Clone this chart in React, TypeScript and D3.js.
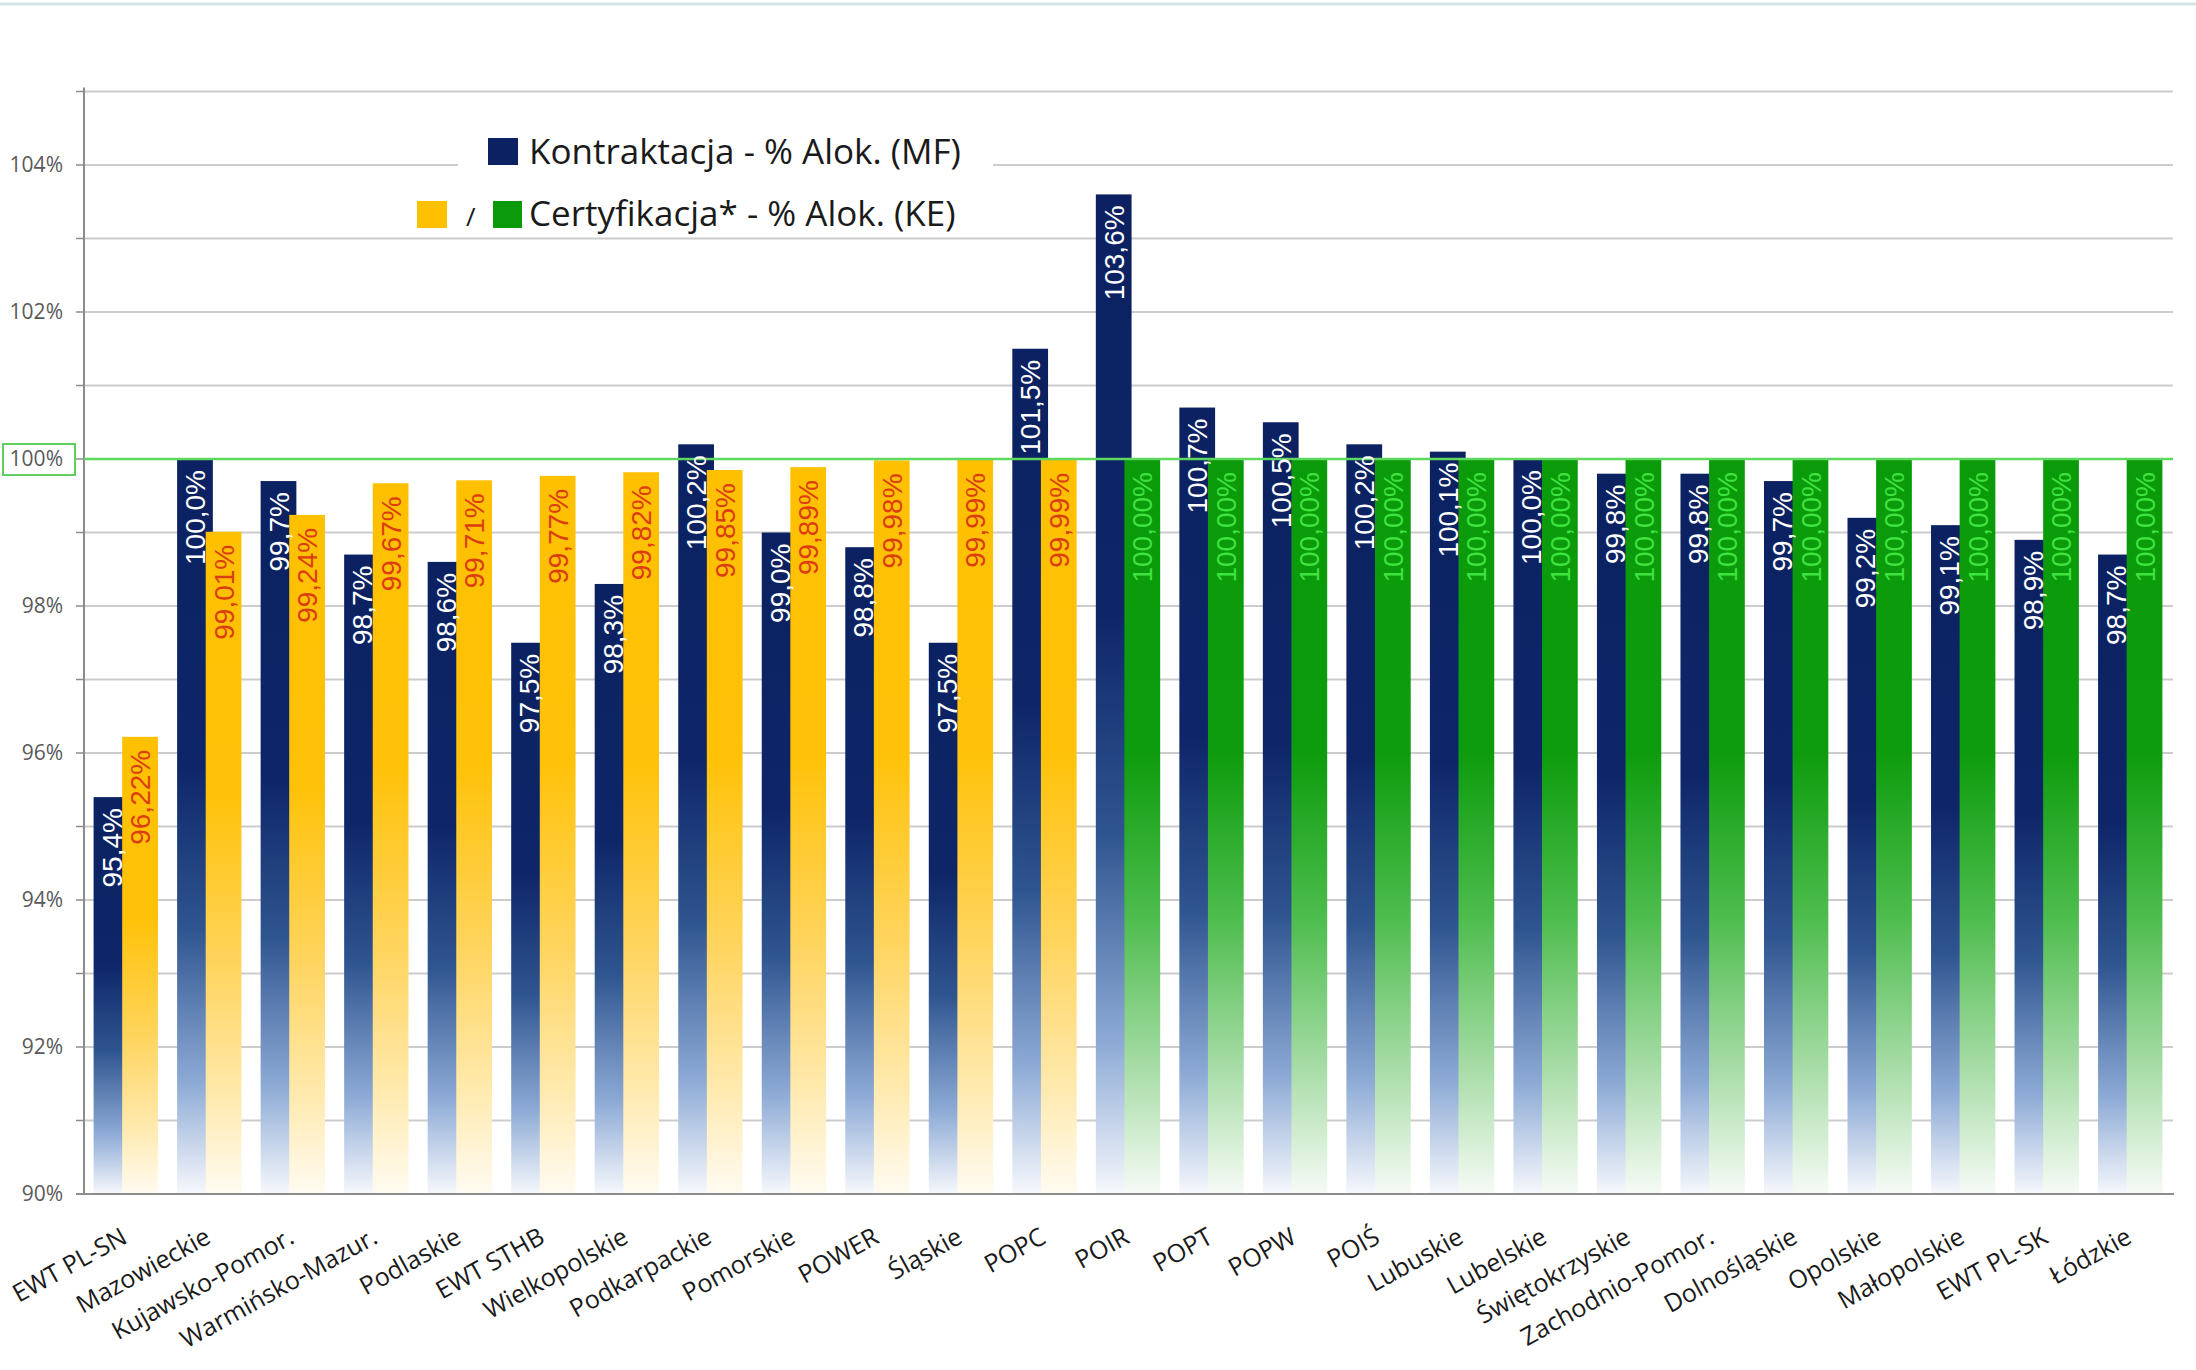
import { useEffect, useRef } from 'react';
import * as d3 from 'd3';

const categories = [
  'EWT PL-SN', 'Mazowieckie', 'Kujawsko-Pomor.', 'Warmińsko-Mazur.', 'Podlaskie',
  'EWT STHB', 'Wielkopolskie', 'Podkarpackie', 'Pomorskie', 'POWER', 'Śląskie',
  'POPC', 'POIR', 'POPT', 'POPW', 'POIŚ', 'Lubuskie', 'Lubelskie', 'Świętokrzyskie',
  'Zachodnio-Pomor.', 'Dolnośląskie', 'Opolskie', 'Małopolskie', 'EWT PL-SK', 'Łódzkie',
];

// Kontraktacja - % Alok. (MF)
const contracting = [
  95.4, 100.0, 99.7, 98.7, 98.6, 97.5, 98.3, 100.2, 99.0, 98.8, 97.5, 101.5,
  103.6, 100.7, 100.5, 100.2, 100.1, 100.0, 99.8, 99.8, 99.7, 99.2, 99.1, 98.9, 98.7,
];

// Certyfikacja* - % Alok. (KE)
const certification = [
  96.22, 99.01, 99.24, 99.67, 99.71, 99.77, 99.82, 99.85, 99.89, 99.98, 99.99, 99.99,
  100, 100, 100, 100, 100, 100, 100, 100, 100, 100, 100, 100, 100,
];

// programmes whose certification is complete (green bars)
const certComplete = [
  'POIR', 'POPT', 'POPW', 'POIŚ', 'Lubuskie', 'Lubelskie', 'Świętokrzyskie',
  'Zachodnio-Pomor.', 'Dolnośląskie', 'Opolskie', 'Małopolskie', 'EWT PL-SK', 'Łódzkie',
];

const yTicks = [90, 92, 94, 96, 98, 100, 102, 104];
const gridValues = d3.range(90, 106, 1);

const W = 2196;
const H = 1370;

const App = () => {
  const ref = useRef<SVGSVGElement>(null);

  useEffect(() => {
    const svg = d3.select(ref.current);
    svg.selectAll('*').remove();

    const left = 84;
    const right = 2172;
    const bottom = 1194;
    const top = 91.5;

    const x = d3.scaleBand().domain(categories).range([left, right]);
    const y = d3.scaleLinear().domain([90, 105]).range([bottom, top]);

    const bw = x.bandwidth();
    const barW = bw * 0.428;
    const overlap = barW * 0.2;
    const groupW = barW * 2 - overlap;
    const offset = (bw - groupW) / 2;

    const data = categories.map((c, i) => ({
      cat: c,
      mf: contracting[i],
      ke: certification[i],
      full: certComplete.includes(c),
    }));

    // gradients
    const defs = svg.append('defs');
    const grad = (id: string, stops: [number, string][]) => {
      const g = defs.append('linearGradient').attr('id', id)
        .attr('x1', 0).attr('y1', 0).attr('x2', 0).attr('y2', 1);
      stops.forEach(([o, c]) => g.append('stop').attr('offset', o).attr('stop-color', c));
    };
    grad('gNavy', [[0, '#0b2161'], [0.42, '#0e2668'], [0.64, '#2f5590'], [0.85, '#8eabd6'], [1, '#f6f8fc']]);
    grad('gYellow', [[0, '#ffc000'], [0.4, '#ffc209'], [0.65, '#ffd45c'], [0.85, '#ffe9ac'], [1, '#fffbf2']]);
    grad('gGreen', [[0, '#0a9a0a'], [0.4, '#0d9c0d'], [0.62, '#4cbc4c'], [0.82, '#a3dba3'], [1, '#f6fbf6']]);

    svg.append('rect').attr('width', W).attr('height', H).attr('fill', '#fff');

    // top frame line
    svg.append('line')
      .attr('x1', 0).attr('x2', W).attr('y1', 4).attr('y2', 4)
      .attr('stroke', '#d4e4e4').attr('stroke-width', 3);

    // gridlines
    svg.append('g')
      .selectAll('line')
      .data(gridValues.filter((v) => v > 90))
      .join('line')
      .attr('x1', left).attr('x2', right + 1)
      .attr('y1', (d) => y(d)).attr('y2', (d) => y(d))
      .attr('stroke', '#cccccc').attr('stroke-width', 2);

    // legend background (hides gridlines behind legend)
    svg.append('rect')
      .attr('x', 458).attr('y', 100).attr('width', 535).attr('height', 134)
      .attr('fill', '#fff');

    // bars
    const bars = svg.append('g');
    bars.selectAll('rect.mf')
      .data(data)
      .join('rect')
      .attr('class', 'mf')
      .attr('x', (d) => x(d.cat)! + offset)
      .attr('y', (d) => y(d.mf))
      .attr('width', barW)
      .attr('height', (d) => y(90) - y(d.mf))
      .attr('fill', 'url(#gNavy)');

    bars.selectAll('rect.ke')
      .data(data)
      .join('rect')
      .attr('class', 'ke')
      .attr('x', (d) => x(d.cat)! + offset + barW - overlap)
      .attr('y', (d) => y(d.ke))
      .attr('width', barW)
      .attr('height', (d) => y(90) - y(d.ke))
      .attr('fill', (d) => (d.full ? 'url(#gGreen)' : 'url(#gYellow)'));

    // axes
    svg.append('line')
      .attr('x1', left).attr('x2', left).attr('y1', top - 4).attr('y2', bottom)
      .attr('stroke', '#8c8c8c').attr('stroke-width', 2);
    svg.append('line')
      .attr('x1', left - 8).attr('x2', right + 2).attr('y1', bottom).attr('y2', bottom)
      .attr('stroke', '#8c8c8c').attr('stroke-width', 2);
    svg.append('g')
      .selectAll('line')
      .data(gridValues)
      .join('line')
      .attr('x1', left - 8).attr('x2', left)
      .attr('y1', (d) => y(d)).attr('y2', (d) => y(d))
      .attr('stroke', '#8c8c8c').attr('stroke-width', 1.5);

    // 100% reference line
    svg.append('line')
      .attr('x1', left).attr('x2', right + 1)
      .attr('y1', y(100)).attr('y2', y(100))
      .attr('stroke', '#5fd85f').attr('stroke-width', 2.5);

    // y tick labels
    svg.append('g')
      .selectAll('text')
      .data(yTicks)
      .join('text')
      .attr('x', 63)
      .attr('y', (d) => y(d))
      .attr('dy', '0.35em')
      .attr('text-anchor', 'end')
      .attr('font-family', '"Open Sans", sans-serif')
      .attr('font-size', 21)
      .attr('fill', '#595959')
      .text((d) => `${d}%`);

    svg.append('rect')
      .attr('x', 3).attr('y', y(100) - 15).attr('width', 72).attr('height', 31)
      .attr('fill', 'none').attr('stroke', '#5fcf5f').attr('stroke-width', 2);

    // value labels
    const fmt = (v: number, n: number) => `${v.toFixed(n).replace('.', ',')}%`;
    const labels = svg.append('g')
      .attr('font-family', '"Liberation Sans", Arial, sans-serif')
      .attr('font-size', 28);

    labels.selectAll('text.mf')
      .data(data)
      .join('text')
      .attr('class', 'mf')
      .attr('transform', (d) => `translate(${x(d.cat)! + offset + barW / 2},${y(d.mf) + 11}) rotate(-90)`)
      .attr('dy', '0.36em')
      .attr('text-anchor', 'end')
      .attr('fill', '#ffffff')
      .text((d) => fmt(d.mf, 1));

    labels.selectAll('text.ke')
      .data(data)
      .join('text')
      .attr('class', 'ke')
      .attr('transform', (d) => `translate(${x(d.cat)! + offset + barW - overlap + barW / 2},${y(d.ke) + 13}) rotate(-90)`)
      .attr('dy', '0.36em')
      .attr('text-anchor', 'end')
      .attr('fill', (d) => (d.full ? '#3fe33f' : '#dc3d10'))
      .text((d) => fmt(d.ke, 2));

    // category labels
    svg.append('g')
      .selectAll('text')
      .data(categories)
      .join('text')
      .attr('transform', (d) => `translate(${x(d)! + bw / 2 + 3},${bottom + 48}) rotate(-29)`)
      .attr('text-anchor', 'end')
      .attr('font-family', '"Open Sans", sans-serif')
      .attr('font-size', 25)
      .attr('fill', '#1a1a1a')
      .text((d) => d);

    // legend
    const lg = svg.append('g')
      .attr('font-family', '"Open Sans", sans-serif')
      .attr('font-size', 35)
      .attr('fill', '#1a1a1a');
    lg.append('rect').attr('x', 488).attr('y', 138).attr('width', 30).attr('height', 27).attr('fill', '#0b2161');
    lg.append('text').attr('x', 529).attr('y', 164).text('Kontraktacja - % Alok. (MF)');
    lg.append('rect').attr('x', 417).attr('y', 201).attr('width', 30).attr('height', 27).attr('fill', '#ffc000');
    lg.append('text').attr('x', 466).attr('y', 226).attr('font-size', 26).text('/');
    lg.append('rect').attr('x', 493).attr('y', 201).attr('width', 29).attr('height', 27).attr('fill', '#0a9a0a');
    lg.append('text').attr('x', 529).attr('y', 226).text('Certyfikacja* - % Alok. (KE)');
  }, []);

  return (
    <svg
      ref={ref}
      width={W}
      height={H}
      style={{ position: 'absolute', left: 0, top: 0, display: 'block' }}
    />
  );
};

export default App;
